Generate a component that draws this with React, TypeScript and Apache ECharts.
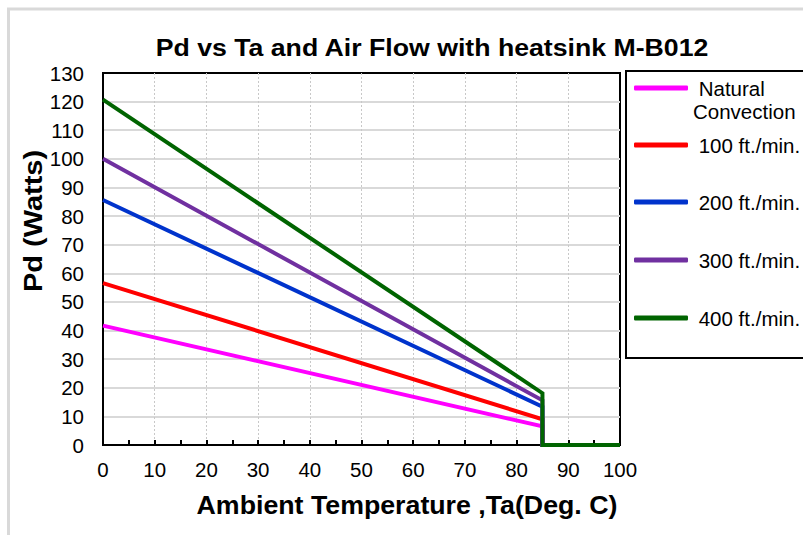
import React, { useEffect, useRef } from "react";
import * as echarts from "echarts";

const temperature = [0, 85, 85, 100];
const seriesNames = ["Natural Convection", "100 ft./min.", "200 ft./min.", "300 ft./min.", "400 ft./min."];
const naturalConvection = [41.7, 6.5, 0, 0];
const flow100 = [56.6, 9.0, 0, 0];
const flow200 = [85.6, 13.4, 0, 0];
const flow300 = [100, 15.6, 0, 0];
const flow400 = [120.7, 18.1, 0, 0];
const seriesValues = [naturalConvection, flow100, flow200, flow300, flow400];
const colors = ["#ff00ff", "#ff0000", "#0033cc", "#7030a0", "#006400"];
const legendCenters = [88, 145, 202, 260, 318];

const FONT = 'Arial, "Liberation Sans", sans-serif';

export default function App() {
  const ref = useRef<HTMLDivElement>(null);
  useEffect(() => {
    if (!ref.current) return;
    const chart = echarts.init(ref.current, undefined, { renderer: "svg" });
    const series = seriesNames.map((name, i) => ({
      name,
      type: "line",
      data: temperature.map((t, j) => [t, seriesValues[i][j]]),
      symbol: "none",
      clip: false,
      color: colors[i],
      lineStyle: { color: colors[i], width: 4, join: "miter" },
      z: 2 + i,
    }));
    const legends = seriesNames.map((name, i) => {
      const isFirst = i === 0;
      return {
        data: [name],
        left: 634,
        top: isFirst ? legendCenters[i] - 34.5 : legendCenters[i] - 11.5,
        padding: 0,
        icon: "roundRect",
        itemWidth: 54,
        itemHeight: 5,
        selectedMode: false,
        formatter: (n: string) => (n === "Natural Convection" ? "\n Natural\nConvection" : " " + n),
        textStyle: { fontFamily: FONT, fontSize: 20.5, color: "#000", lineHeight: 23 },
      };
    });
    chart.setOption({
      animation: false,
      backgroundColor: "#fff",
      grid: { left: 103, top: 73, right: 183, bottom: 90, show: true, borderColor: "#000", borderWidth: 2, containLabel: false },
      xAxis: {
        type: "value",
        min: 0,
        max: 100,
        interval: 10,
        axisLine: { show: true, lineStyle: { color: "#000", width: 2 } },
        axisTick: { show: true, inside: true, length: 5, lineStyle: { color: "#000", width: 2 } },
        minorTick: { show: true, splitNumber: 2, length: 5, lineStyle: { color: "#000", width: 2 } },
        axisLabel: { fontFamily: FONT, fontSize: 20.5, color: "#000", margin: 14 },
        splitLine: { show: true, showMinLine: false, showMaxLine: false, lineStyle: { color: "#c8c8c8", type: [2, 2], width: 1 } },
      },
      yAxis: {
        type: "value",
        min: 0,
        max: 130,
        interval: 10,
        axisLine: { show: true, lineStyle: { color: "#000", width: 2 } },
        axisTick: { show: false },
        axisLabel: { fontFamily: FONT, fontSize: 20.5, color: "#000", margin: 19 },
        splitLine: { show: true, showMinLine: false, showMaxLine: false, lineStyle: { color: "#d9d9d9", width: 2 } },
      },
      legend: legends,
      series,
      graphic: [
        {
          type: "rect",
          z: -10,
          silent: true,
          shape: { x: 8.5, y: 9, width: 900, height: 700 },
          style: { fill: "none", stroke: "#d9d9d9", lineWidth: 3 },
        },
        {
          type: "rect",
          z: -5,
          silent: true,
          shape: { x: 626, y: 71, width: 300, height: 287 },
          style: { fill: "#fff", stroke: "#000", lineWidth: 2 },
        },
        {
          type: "text",
          x: 432,
          y: 48,
          scaleX: 1.16,
          style: {
            text: "Pd vs Ta and Air Flow with heatsink M-B012",
            fontFamily: FONT,
            fontWeight: "bold",
            fontSize: 23,
            fill: "#000",
            align: "center",
            verticalAlign: "middle",
          },
        },
        {
          type: "text",
          x: 407,
          y: 505,
          scaleX: 1.07,
          style: {
            text: "Ambient Temperature ,Ta(Deg. C)",
            fontFamily: FONT,
            fontWeight: "bold",
            fontSize: 25,
            fill: "#000",
            align: "center",
            verticalAlign: "middle",
          },
        },
        {
          type: "text",
          x: 33,
          y: 221,
          rotation: Math.PI / 2,
          scaleX: 1.16,
          style: {
            text: "Pd (Watts)",
            fontFamily: FONT,
            fontWeight: "bold",
            fontSize: 25,
            fill: "#000",
            align: "center",
            verticalAlign: "middle",
          },
        },
      ],
    });
    return () => chart.dispose();
  }, []);
  return <div ref={ref} style={{ position: "fixed", left: 0, top: 0, width: 803, height: 535 }} />;
}
